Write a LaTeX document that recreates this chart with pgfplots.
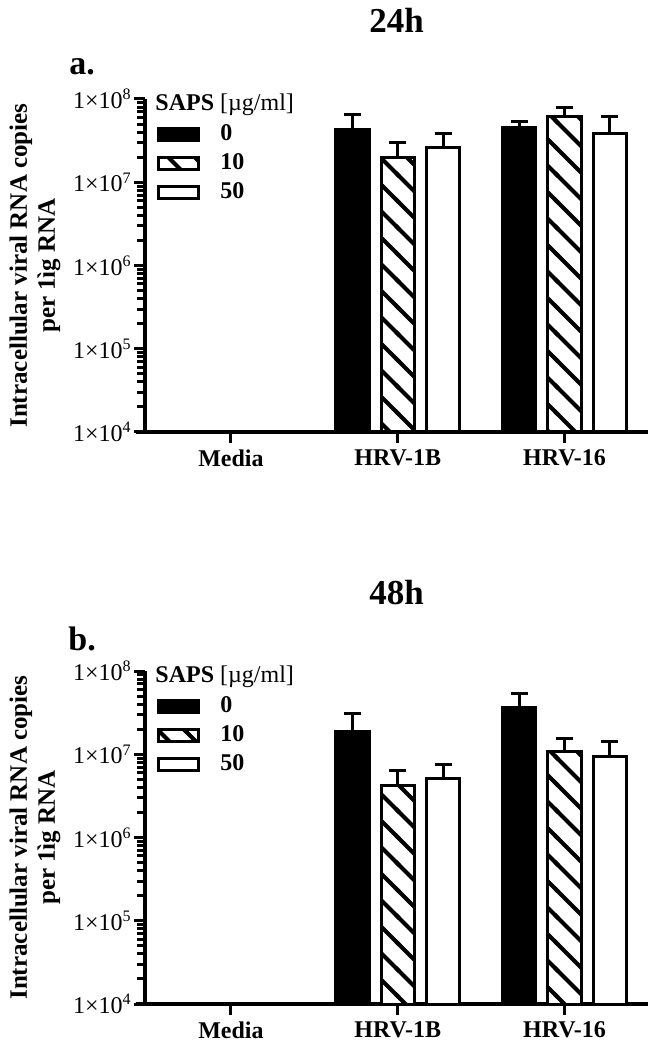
\documentclass[border=0pt]{standalone}
\usepackage{fontspec}
\setmainfont{Liberation Serif}
\usepackage{pgfplots}
\pgfplotsset{compat=1.18}
\usetikzlibrary{patterns}

\pgfdeclarepatternformonly{bigstripes}{\pgfqpoint{-1.5pt}{-1.5pt}}{\pgfqpoint{14.75pt}{14.75pt}}{\pgfqpoint{13.25pt}{13.25pt}}{%
  \pgfsetlinewidth{2.1pt}%
  \pgfpathmoveto{\pgfqpoint{-1.5pt}{14.75pt}}%
  \pgfpathlineto{\pgfqpoint{14.75pt}{-1.5pt}}%
  \pgfusepath{stroke}}

\newcommand{\lbl}{\fontsize{12}{14}\selectfont}
\newcommand{\ylbl}{\fontsize{12.5}{14}\selectfont}

\begin{document}
\begin{tikzpicture}
\path[use as bounding box] (-72.5pt,-308.5pt) rectangle (255.5pt,216pt);

\begin{axis}[at={(0pt,0pt)}, anchor=south west, clip mode=individual,
    width=251.5pt, height=166.5pt, scale only axis,
    ymode=log, log basis y=10, ymin=1e4, ymax=1e8, log origin=infty,
    xmin=-0.515, xmax=2.5,
    axis lines=left, axis line style={-, line width=2pt},
    x axis line style={shorten <=-4.5pt},
    xtick={0,1,2}, xticklabels={Media,HRV-1B,HRV-16},
    ytick={1e4,1e5,1e6,1e7,1e8},
    minor ytick={2e4,3e4,4e4,5e4,6e4,7e4,8e4,9e4,2e5,3e5,4e5,5e5,6e5,7e5,8e5,9e5,2e6,3e6,4e6,5e6,6e6,7e6,8e6,9e6,2e7,3e7,4e7,5e7,6e7,7e7,8e7,9e7},
    tick align=outside, major tick length=5.5pt, minor tick length=4pt,
    tick style={black, line width=1.5pt},
    /pgf/number format/assume math mode=true,
    yticklabel={\pgfmathparse{int(round(\tick))}1×10\textsuperscript{\pgfmathresult}},
    yticklabel style={font=\lbl, inner sep=1pt},
    xticklabel style={font=\bfseries\lbl},
    ybar, bar width=0.2,
    ylabel={Intracellular viral RNA copies\\per 1ìg RNA},
    ylabel style={at={(axis description cs:-0.219,0.5)}, anchor=center, align=center, font=\bfseries\ylbl},
    legend style={at={(axis description cs:0.024,0.934)}, anchor=north west, draw=none, fill=none,
      inner sep=0pt, outer sep=0pt, row sep=1pt, column sep=8pt, font=\bfseries\lbl},
    legend cell align=left]
\addplot[fill=black, draw=black, line width=1.5pt, bar shift=-0.272, area legend, legend image post style={xscale=1.18, yscale=1.05},
  error bars/.cd, y dir=plus, y explicit, error bar style={line width=1.5pt, black},
  error mark options={rotate=90, line width=1.5pt, black, mark size=4.25pt}]
 table[x=x, y=y, y error=e] {
x y e
1 4.3e7 2.2e7
2 4.6e7 0.7e7
};
\addplot[fill=white, draw=black, line width=1.5pt, bar shift=0, postaction={pattern=bigstripes}, area legend, legend image post style={xscale=1.18, yscale=1.05},
  error bars/.cd, y dir=plus, y explicit, error bar style={line width=1.5pt, black},
  error mark options={rotate=90, line width=1.5pt, black, mark size=4.25pt}]
 table[x=x, y=y, y error=e] {
x y e
1 2.0e7 1.0e7
2 6.1e7 1.8e7
};
\addplot[fill=white, draw=black, line width=1.5pt, bar shift=0.272, area legend, legend image post style={xscale=1.18, yscale=1.05},
  error bars/.cd, y dir=plus, y explicit, error bar style={line width=1.5pt, black},
  error mark options={rotate=90, line width=1.5pt, black, mark size=4.25pt}]
 table[x=x, y=y, y error=e] {
x y e
1 2.65e7 1.25e7
2 3.8e7 2.4e7
};
\legend{0,10,50}
\node[font=\bfseries\fontsize{17.5}{20}\selectfont, anchor=center] at (axis description cs:0.5,1.237) {24h};
\node[font=\bfseries\fontsize{17}{20}\selectfont, anchor=center] at (axis description cs:-0.125,1.096) {a.};
\node[anchor=west, font=\lbl, inner sep=0pt] at (axis description cs:0.02,0.982) {\textbf{SAPS} [µg/ml]};
\end{axis}

\begin{axis}[at={(0pt,-286pt)}, anchor=south west, clip mode=individual,
    width=251.5pt, height=166.5pt, scale only axis,
    ymode=log, log basis y=10, ymin=1e4, ymax=1e8, log origin=infty,
    xmin=-0.515, xmax=2.5,
    axis lines=left, axis line style={-, line width=2pt},
    x axis line style={shorten <=-4.5pt},
    xtick={0,1,2}, xticklabels={Media,HRV-1B,HRV-16},
    ytick={1e4,1e5,1e6,1e7,1e8},
    minor ytick={2e4,3e4,4e4,5e4,6e4,7e4,8e4,9e4,2e5,3e5,4e5,5e5,6e5,7e5,8e5,9e5,2e6,3e6,4e6,5e6,6e6,7e6,8e6,9e6,2e7,3e7,4e7,5e7,6e7,7e7,8e7,9e7},
    tick align=outside, major tick length=5.5pt, minor tick length=4pt,
    tick style={black, line width=1.5pt},
    /pgf/number format/assume math mode=true,
    yticklabel={\pgfmathparse{int(round(\tick))}1×10\textsuperscript{\pgfmathresult}},
    yticklabel style={font=\lbl, inner sep=1pt},
    xticklabel style={font=\bfseries\lbl},
    ybar, bar width=0.2,
    ylabel={Intracellular viral RNA copies\\per 1ìg RNA},
    ylabel style={at={(axis description cs:-0.219,0.5)}, anchor=center, align=center, font=\bfseries\ylbl},
    legend style={at={(axis description cs:0.024,0.934)}, anchor=north west, draw=none, fill=none,
      inner sep=0pt, outer sep=0pt, row sep=1pt, column sep=8pt, font=\bfseries\lbl},
    legend cell align=left]
\addplot[fill=black, draw=black, line width=1.5pt, bar shift=-0.272, area legend, legend image post style={xscale=1.18, yscale=1.05},
  error bars/.cd, y dir=plus, y explicit, error bar style={line width=1.5pt, black},
  error mark options={rotate=90, line width=1.5pt, black, mark size=4.25pt}]
 table[x=x, y=y, y error=e] {
x y e
1 1.87e7 1.23e7
2 3.66e7 1.64e7
};
\addplot[fill=white, draw=black, line width=1.5pt, bar shift=0, postaction={pattern=bigstripes}, area legend, legend image post style={xscale=1.18, yscale=1.05},
  error bars/.cd, y dir=plus, y explicit, error bar style={line width=1.5pt, black},
  error mark options={rotate=90, line width=1.5pt, black, mark size=4.25pt}]
 table[x=x, y=y, y error=e] {
x y e
1 4.2e6 2.15e6
2 1.09e7 0.46e7
};
\addplot[fill=white, draw=black, line width=1.5pt, bar shift=0.272, area legend, legend image post style={xscale=1.18, yscale=1.05},
  error bars/.cd, y dir=plus, y explicit, error bar style={line width=1.5pt, black},
  error mark options={rotate=90, line width=1.5pt, black, mark size=4.25pt}]
 table[x=x, y=y, y error=e] {
x y e
1 5.14e6 2.46e6
2 9.35e6 4.85e6
};
\legend{0,10,50}
\node[font=\bfseries\fontsize{17.5}{20}\selectfont, anchor=center] at (axis description cs:0.5,1.237) {48h};
\node[font=\bfseries\fontsize{17}{20}\selectfont, anchor=center] at (axis description cs:-0.125,1.096) {b.};
\node[anchor=west, font=\lbl, inner sep=0pt] at (axis description cs:0.02,0.982) {\textbf{SAPS} [µg/ml]};
\end{axis}
\end{tikzpicture}
\end{document}
